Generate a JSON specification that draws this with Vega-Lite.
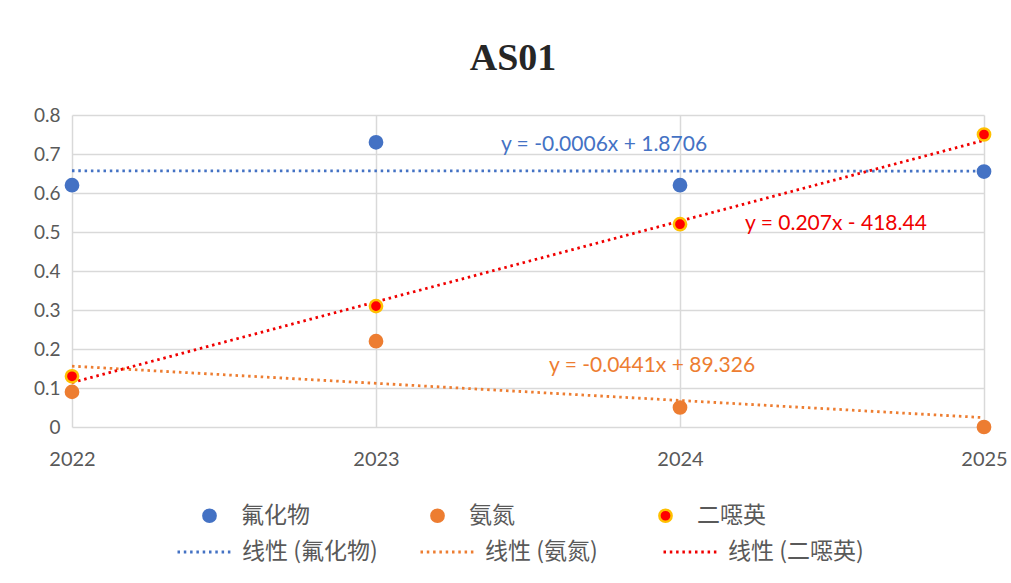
{
  "$schema": "https://vega.github.io/schema/vega-lite/v6.json",
  "width": 912,
  "height": 312,
  "autosize": {"type": "none"},
  "padding": {"left": 72, "top": 115, "right": 27, "bottom": 156},
  "background": "white",
  "title": {
    "text": "AS01",
    "font": "Liberation Serif",
    "fontSize": 38,
    "fontWeight": "bold",
    "color": "#262626",
    "anchor": "middle",
    "dx": -15,
    "offset": 28
  },
  "datasets": {
    "pts": [
      {"year": 2022, "value": 0.62, "series": "氟化物"},
      {"year": 2023, "value": 0.73, "series": "氟化物"},
      {"year": 2024, "value": 0.62, "series": "氟化物"},
      {"year": 2025, "value": 0.655, "series": "氟化物"},
      {"year": 2022, "value": 0.09, "series": "氨氮"},
      {"year": 2023, "value": 0.22, "series": "氨氮"},
      {"year": 2024, "value": 0.05, "series": "氨氮"},
      {"year": 2025, "value": 0.0, "series": "氨氮"},
      {"year": 2022, "value": 0.13, "series": "二噁英"},
      {"year": 2023, "value": 0.31, "series": "二噁英"},
      {"year": 2024, "value": 0.52, "series": "二噁英"},
      {"year": 2025, "value": 0.75, "series": "二噁英"}
    ],
    "trend": [
      {"year": 2022, "value": 0.657, "trend": "线性 (氟化物)"},
      {"year": 2025, "value": 0.656, "trend": "线性 (氟化物)"},
      {"year": 2022, "value": 0.156, "trend": "线性 (氨氮)"},
      {"year": 2025, "value": 0.024, "trend": "线性 (氨氮)"},
      {"year": 2022, "value": 0.114, "trend": "线性 (二噁英)"},
      {"year": 2025, "value": 0.735, "trend": "线性 (二噁英)"}
    ],
    "labels": [
      {"key": "one"}
    ]
  },
  "layer": [
    {
      "data": {"name": "trend"},
      "mark": {"type": "line", "strokeDash": [2.5, 3.8], "strokeWidth": 2.8},
      "encoding": {
        "x": {
          "field": "year", "type": "quantitative",
          "scale": {"domain": [2022, 2025], "nice": false, "zero": false},
          "axis": {
            "values": [2022, 2023, 2024, 2025], "format": "d", "title": null,
            "grid": true, "gridColor": "#D9D9D9", "gridWidth": 1.5,
            "domain": false, "ticks": false, "labelOverlap": false,
            "labelFont": "Lato", "labelFontSize": 20, "labelColor": "#595959",
            "labelPadding": 22, "labelFlush": false
          }
        },
        "y": {
          "field": "value", "type": "quantitative",
          "scale": {"domain": [0, 0.8], "nice": false},
          "axis": {
            "values": [0, 0.1, 0.2, 0.3, 0.4, 0.5, 0.6, 0.7, 0.8], "format": ".1~f", "title": null,
            "grid": true, "gridColor": "#D9D9D9", "gridWidth": 1.5,
            "domain": false, "ticks": false, "labelOverlap": false,
            "labelFont": "Lato", "labelFontSize": 19, "labelColor": "#595959",
            "labelPadding": 12
          }
        },
        "color": {
          "field": "trend", "type": "nominal",
          "scale": {"domain": ["线性 (氟化物)", "线性 (氨氮)", "线性 (二噁英)"], "range": ["#4472C4", "#ED7D31", "#F00000"]},
          "legend": {
            "title": null, "orient": "none", "direction": "horizontal",
            "legendX": 104, "legendY": 408, "padding": 0,
            "gridAlign": "all", "columnPadding": 36,
            "symbolType": "stroke", "symbolSize": 3025, "symbolStrokeWidth": 2.8,
            "symbolDash": [2.5, 3.8], "labelOffset": 8,
            "labelFont": "Noto Sans CJK SC", "labelFontSize": 23, "labelColor": "#595959",
            "labelLimit": 300
          }
        }
      }
    },
    {
      "data": {"name": "pts"},
      "mark": {"type": "point", "filled": true, "size": 150, "strokeWidth": 2.5, "opacity": 1},
      "encoding": {
        "x": {
          "field": "year", "type": "quantitative",
          "axis": {
            "values": [2022, 2023, 2024, 2025], "format": "d", "title": null,
            "grid": true, "gridColor": "#D9D9D9", "gridWidth": 1.5,
            "domain": false, "ticks": false, "labelOverlap": false,
            "labelFont": "Lato", "labelFontSize": 20, "labelColor": "#595959",
            "labelPadding": 22, "labelFlush": false
          }
        },
        "y": {
          "field": "value", "type": "quantitative",
          "axis": {
            "values": [0, 0.1, 0.2, 0.3, 0.4, 0.5, 0.6, 0.7, 0.8], "format": ".1~f", "title": null,
            "grid": true, "gridColor": "#D9D9D9", "gridWidth": 1.5,
            "domain": false, "ticks": false, "labelOverlap": false,
            "labelFont": "Lato", "labelFontSize": 19, "labelColor": "#595959",
            "labelPadding": 12
          }
        },
        "fill": {
          "field": "series", "type": "nominal",
          "scale": {"domain": ["氟化物", "氨氮", "二噁英"], "range": ["#4472C4", "#ED7D31", "#FF0000"]},
          "legend": {
            "title": null, "orient": "none", "direction": "horizontal",
            "legendX": 126, "legendY": 389, "padding": 0,
            "gridAlign": "all", "columnPadding": 116,
            "symbolType": "circle", "symbolSize": 150, "symbolStrokeWidth": 2.5,
            "labelOffset": 20,
            "labelFont": "Noto Sans CJK SC", "labelFontSize": 23, "labelColor": "#595959"
          }
        },
        "stroke": {
          "field": "series", "type": "nominal",
          "scale": {"domain": ["氟化物", "氨氮", "二噁英"], "range": ["#4472C4", "#ED7D31", "#FFC000"]},
          "legend": {
            "title": null, "orient": "none", "direction": "horizontal",
            "legendX": 126, "legendY": 389, "padding": 0,
            "gridAlign": "all", "columnPadding": 116,
            "symbolType": "circle", "symbolSize": 150, "symbolStrokeWidth": 2.5,
            "labelOffset": 20,
            "labelFont": "Noto Sans CJK SC", "labelFontSize": 23, "labelColor": "#595959"
          }
        }
      }
    },
    {
      "data": {"name": "labels"},
      "mark": {"type": "text", "font": "Lato", "fontSize": 21, "color": "#4472C4"},
      "encoding": {
        "x": {
          "datum": 2023.75, "type": "quantitative",
          "axis": {
            "values": [2022, 2023, 2024, 2025], "format": "d", "title": null,
            "grid": true, "gridColor": "#D9D9D9", "gridWidth": 1.5,
            "domain": false, "ticks": false, "labelOverlap": false,
            "labelFont": "Lato", "labelFontSize": 20, "labelColor": "#595959",
            "labelPadding": 22, "labelFlush": false
          }
        },
        "y": {
          "datum": 0.723, "type": "quantitative",
          "axis": {
            "values": [0, 0.1, 0.2, 0.3, 0.4, 0.5, 0.6, 0.7, 0.8], "format": ".1~f", "title": null,
            "grid": true, "gridColor": "#D9D9D9", "gridWidth": 1.5,
            "domain": false, "ticks": false, "labelOverlap": false,
            "labelFont": "Lato", "labelFontSize": 19, "labelColor": "#595959",
            "labelPadding": 12
          }
        },
        "text": {"value": "y = -0.0006x + 1.8706"}
      }
    },
    {
      "data": {"name": "labels"},
      "mark": {"type": "text", "font": "Lato", "fontSize": 21, "color": "#F00000"},
      "encoding": {
        "x": {
          "datum": 2024.513, "type": "quantitative",
          "axis": {
            "values": [2022, 2023, 2024, 2025], "format": "d", "title": null,
            "grid": true, "gridColor": "#D9D9D9", "gridWidth": 1.5,
            "domain": false, "ticks": false, "labelOverlap": false,
            "labelFont": "Lato", "labelFontSize": 20, "labelColor": "#595959",
            "labelPadding": 22, "labelFlush": false
          }
        },
        "y": {
          "datum": 0.5205, "type": "quantitative",
          "axis": {
            "values": [0, 0.1, 0.2, 0.3, 0.4, 0.5, 0.6, 0.7, 0.8], "format": ".1~f", "title": null,
            "grid": true, "gridColor": "#D9D9D9", "gridWidth": 1.5,
            "domain": false, "ticks": false, "labelOverlap": false,
            "labelFont": "Lato", "labelFontSize": 19, "labelColor": "#595959",
            "labelPadding": 12
          }
        },
        "text": {"value": "y = 0.207x - 418.44"}
      }
    },
    {
      "data": {"name": "labels"},
      "mark": {"type": "text", "font": "Lato", "fontSize": 21, "color": "#ED7D31"},
      "encoding": {
        "x": {
          "datum": 2023.908, "type": "quantitative",
          "axis": {
            "values": [2022, 2023, 2024, 2025], "format": "d", "title": null,
            "grid": true, "gridColor": "#D9D9D9", "gridWidth": 1.5,
            "domain": false, "ticks": false, "labelOverlap": false,
            "labelFont": "Lato", "labelFontSize": 20, "labelColor": "#595959",
            "labelPadding": 22, "labelFlush": false
          }
        },
        "y": {
          "datum": 0.156, "type": "quantitative",
          "axis": {
            "values": [0, 0.1, 0.2, 0.3, 0.4, 0.5, 0.6, 0.7, 0.8], "format": ".1~f", "title": null,
            "grid": true, "gridColor": "#D9D9D9", "gridWidth": 1.5,
            "domain": false, "ticks": false, "labelOverlap": false,
            "labelFont": "Lato", "labelFontSize": 19, "labelColor": "#595959",
            "labelPadding": 12
          }
        },
        "text": {"value": "y = -0.0441x + 89.326"}
      }
    }
  ],
  "resolve": {"scale": {"color": "independent", "fill": "independent", "stroke": "independent"}},
  "config": {"view": {"stroke": null}}
}
